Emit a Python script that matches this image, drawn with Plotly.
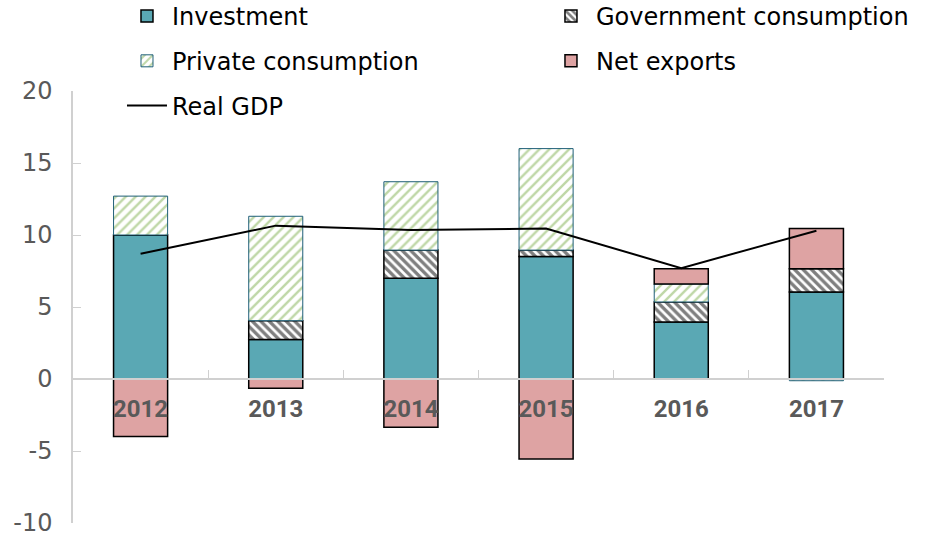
import plotly.graph_objects as go

years = ["2012", "2013", "2014", "2015", "2016", "2017"]
investment = [10.0, 2.75, 7.0, 8.5, 3.95, 6.05]
government = [0.0, 1.3, 1.95, 0.45, 1.4, 1.6]
private = [2.7, 7.25, 4.75, 7.05, 1.25, -0.12]
net_exports = [-4.0, -0.65, -3.35, -5.55, 1.05, 2.8]
real_gdp = [8.7, 10.65, 10.35, 10.45, 7.7, 10.3]

y_ticks = [-10, -5, 0, 5, 10, 15, 20]
y_labels = ["-10", "-5", "0", "5", "10", "15", "20"]

fig = go.Figure()

fig.add_trace(go.Bar(x=years, y=investment, name="Investment", legend="legend", legendgroup="a",
                     marker=dict(color="#5aa8b4", line=dict(color="black", width=1.5))))
fig.add_trace(go.Bar(x=years, y=government, name="Government consumption", legend="legend2",
                     legendgroup="b",
                     marker=dict(color="white", line=dict(color="black", width=1.5),
                                 pattern=dict(shape="\\", fgcolor="black", bgcolor="white",
                                              size=6, solidity=0.55))))
fig.add_trace(go.Bar(x=years, y=private, name="Private consumption", legend="legend", legendgroup="c",
                     marker=dict(color="white", line=dict(color="#1f5f78", width=1),
                                 pattern=dict(shape="/", fgcolor="#7fb050", bgcolor="white",
                                              size=7, solidity=0.35))))
fig.add_trace(go.Bar(x=years, y=net_exports, name="Net exports", legend="legend2", legendgroup="d",
                     marker=dict(color="#dea3a3", line=dict(color="black", width=1.5))))
fig.add_trace(go.Scatter(x=years, y=real_gdp, name="Real GDP", mode="lines", legend="legend",
                         legendgroup="e", line=dict(color="black", width=2)))

# two legends side by side give the 2-column layout
leg = dict(orientation="v", xanchor="left", yanchor="top",
           y=1.2245, tracegroupgap=10.5, traceorder="grouped", itemwidth=40,
           font=dict(family="DejaVu Sans", size=24, color="black"), bgcolor="rgba(0,0,0,0)")

fig.update_layout(
    width=938, height=536,
    margin=dict(l=73, r=54, t=91, b=13, autoexpand=False),
    barmode="relative", bargap=0.6,
    plot_bgcolor="white", paper_bgcolor="white",
    font=dict(family="DejaVu Sans", size=24, color="black"),
    legend=dict(leg, x=0.0604),
    legend2=dict(leg, x=0.5832),
    xaxis=dict(anchor="free", position=1/3, showline=True, linecolor="#d0d0d0", linewidth=1.5,
               ticks="inside", tickson="boundaries", ticklen=8, tickcolor="#d0d0d0",
               showgrid=False, zeroline=False, ticklabelstandoff=8, automargin=False,
               tickfont=dict(family="Roboto", size=24, color="#595959", weight="bold")),
    yaxis=dict(range=[-10, 20], tickvals=y_ticks, ticktext=y_labels, showline=True,
               linecolor="#d0d0d0", linewidth=1.5, automargin=False, ticklabeloverflow="allow",
               ticks="inside", ticklen=8, tickcolor="#d0d0d0", showgrid=False,
               zeroline=False, ticklabelstandoff=14,
               tickfont=dict(family="DejaVu Sans", size=24, color="#595959")),
)

# drop the default body margin so the figure sits at the page corner
fig.write_html("out.html", config={"displayModeBar": False},
               post_script="document.body.style.margin = '0';")
